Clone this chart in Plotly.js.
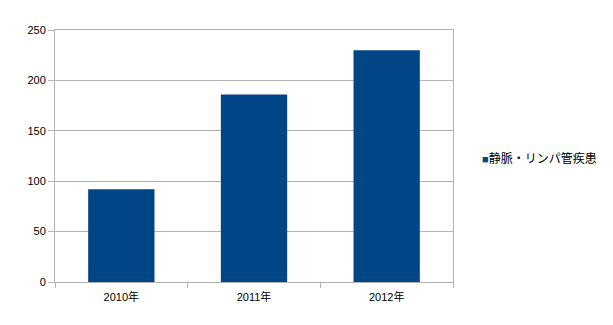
<!DOCTYPE html>
<html><head><meta charset="utf-8">
<script src="https://cdn.plot.ly/plotly-3.0.1.min.js"></script>
<style>html,body{margin:0;padding:0;background:#fff}#chart{width:613px;height:325px}</style>
</head><body><div id="chart"></div>
<script>
const categories = ["2010年", "2011年", "2012年"];
const values = [92, 186, 230];
const seriesName = "静脈・リンパ管疾患";
const yTicks = [0, 50, 100, 150, 200, 250];
const seriesColor = "#004586";

const font = "Liberation Sans, 'Noto Sans CJK JP', sans-serif";
Plotly.newPlot("chart", [{
  type: "bar", x: categories, y: values, name: seriesName,
  marker: {color: seriesColor}, showlegend: false
}], {
  width: 613, height: 325,
  margin: {l: 55, r: 160, t: 30, b: 43, autoexpand: false},
  paper_bgcolor: "#fff", plot_bgcolor: "#fff",
  bargap: 0.5,
  font: {family: font, size: 11, color: "#000"},
  xaxis: {type: "category", showline: true, linecolor: "#b3b3b3", linewidth: 1, mirror: true,
    ticks: "outside", tickson: "boundaries", ticklen: 5, tickcolor: "#b3b3b3",
    showgrid: false, tickfont: {size: 11}, ticklabelstandoff: 5},
  yaxis: {range: [0, 250], tickvals: yTicks, showline: true, linecolor: "#b3b3b3", mirror: true,
    ticks: "outside", ticklen: 6, tickcolor: "#b3b3b3", gridcolor: "#b3b3b3", zeroline: false,
    tickfont: {size: 11}},
  annotations: [{
    xref: "paper", yref: "paper", x: 1.069, y: 0.492, xanchor: "left", yanchor: "middle",
    showarrow: false, font: {size: 12, color: "#000"},
    text: '<span style="color:' + seriesColor + ';font-size:11px">■</span>' + seriesName
  }]
}, {displayModeBar: false, staticPlot: true});
</script></body></html>
